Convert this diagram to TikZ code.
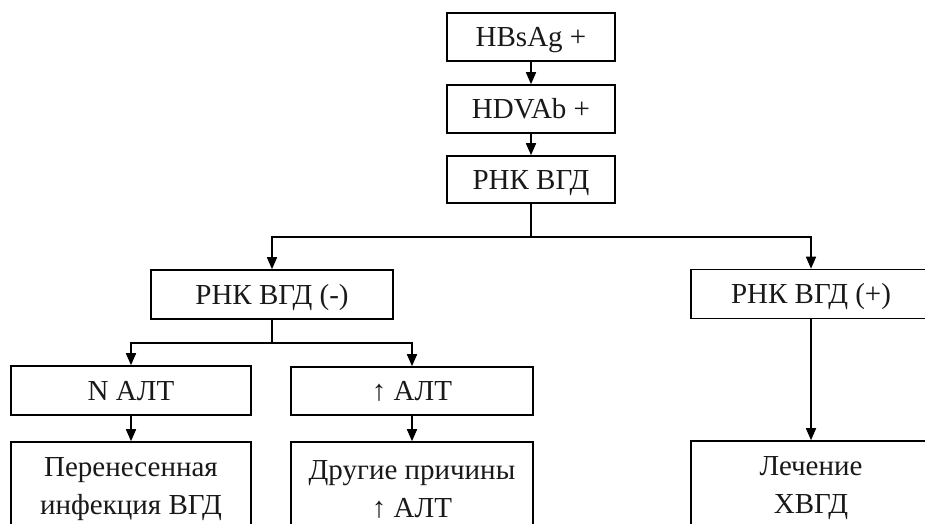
\documentclass[tikz,border=0pt]{standalone}
\usepackage{fontspec}
\setmainfont{Liberation Serif}
\usetikzlibrary{arrows.meta}
\begin{document}
\begin{tikzpicture}[x=1pt,y=-1pt,
  box/.style={draw=black,line width=1.6pt,fill=white,inner sep=0pt,align=center,
    font=\fontsize{29}{38}\selectfont,text=black!90},
  single/.style={box,text height=19pt,text depth=0pt},
  conn/.style={line width=1.6pt,draw=black},
  arr/.style={conn,-{Triangle[length=12pt,width=10pt]}}]
\useasboundingbox (0,0) rectangle (925,523);
\clip (0,0) rectangle (925,523);
\node[single,minimum width=168,minimum height=48] (b1) at (531,37) {HBsAg +};
\node[single,minimum width=168,minimum height=48] (b2) at (531,109) {HDVAb +};
\node[single,minimum width=168,minimum height=47] (b3) at (531,179.5) {РНК ВГД};
\node[single,minimum width=242,minimum height=49] (neg) at (272,294.5) {РНК ВГД (-)};
\node[single,minimum width=240,minimum height=49] (pos) at (811,294) {РНК ВГД (+)};
\node[single,minimum width=240,minimum height=49] (nalt) at (131,390.5) {N АЛТ};
\node[single,minimum width=242,minimum height=48] (ualt) at (412,391) {↑ АЛТ};
\node[box,minimum width=240,minimum height=94] (per) at (131,489) {Перенесенная\\инфекция ВГД};
\node[box,minimum width=242,minimum height=94] (dr) at (412,489) {Другие причины\\↑ АЛТ};
\node[box,minimum width=240,minimum height=94] (tr) at (811,488) {Лечение\\ХВГД};
\coordinate (j1) at (531,237);
\coordinate (j2) at (272,343);
\draw[arr] (b1) -- (b2);
\draw[arr] (b2) -- (b3);
\draw[conn] (b3) -- (j1);
\draw[arr] (j1) -| (neg);
\draw[arr] (j1) -| (pos);
\draw[conn] (neg) -- (j2);
\draw[arr] (j2) -| (nalt);
\draw[arr] (j2) -| (ualt);
\draw[arr] (nalt) -- (per);
\draw[arr] (ualt) -- (dr);
\draw[arr] (pos) -- (tr);
\end{tikzpicture}
\end{document}
